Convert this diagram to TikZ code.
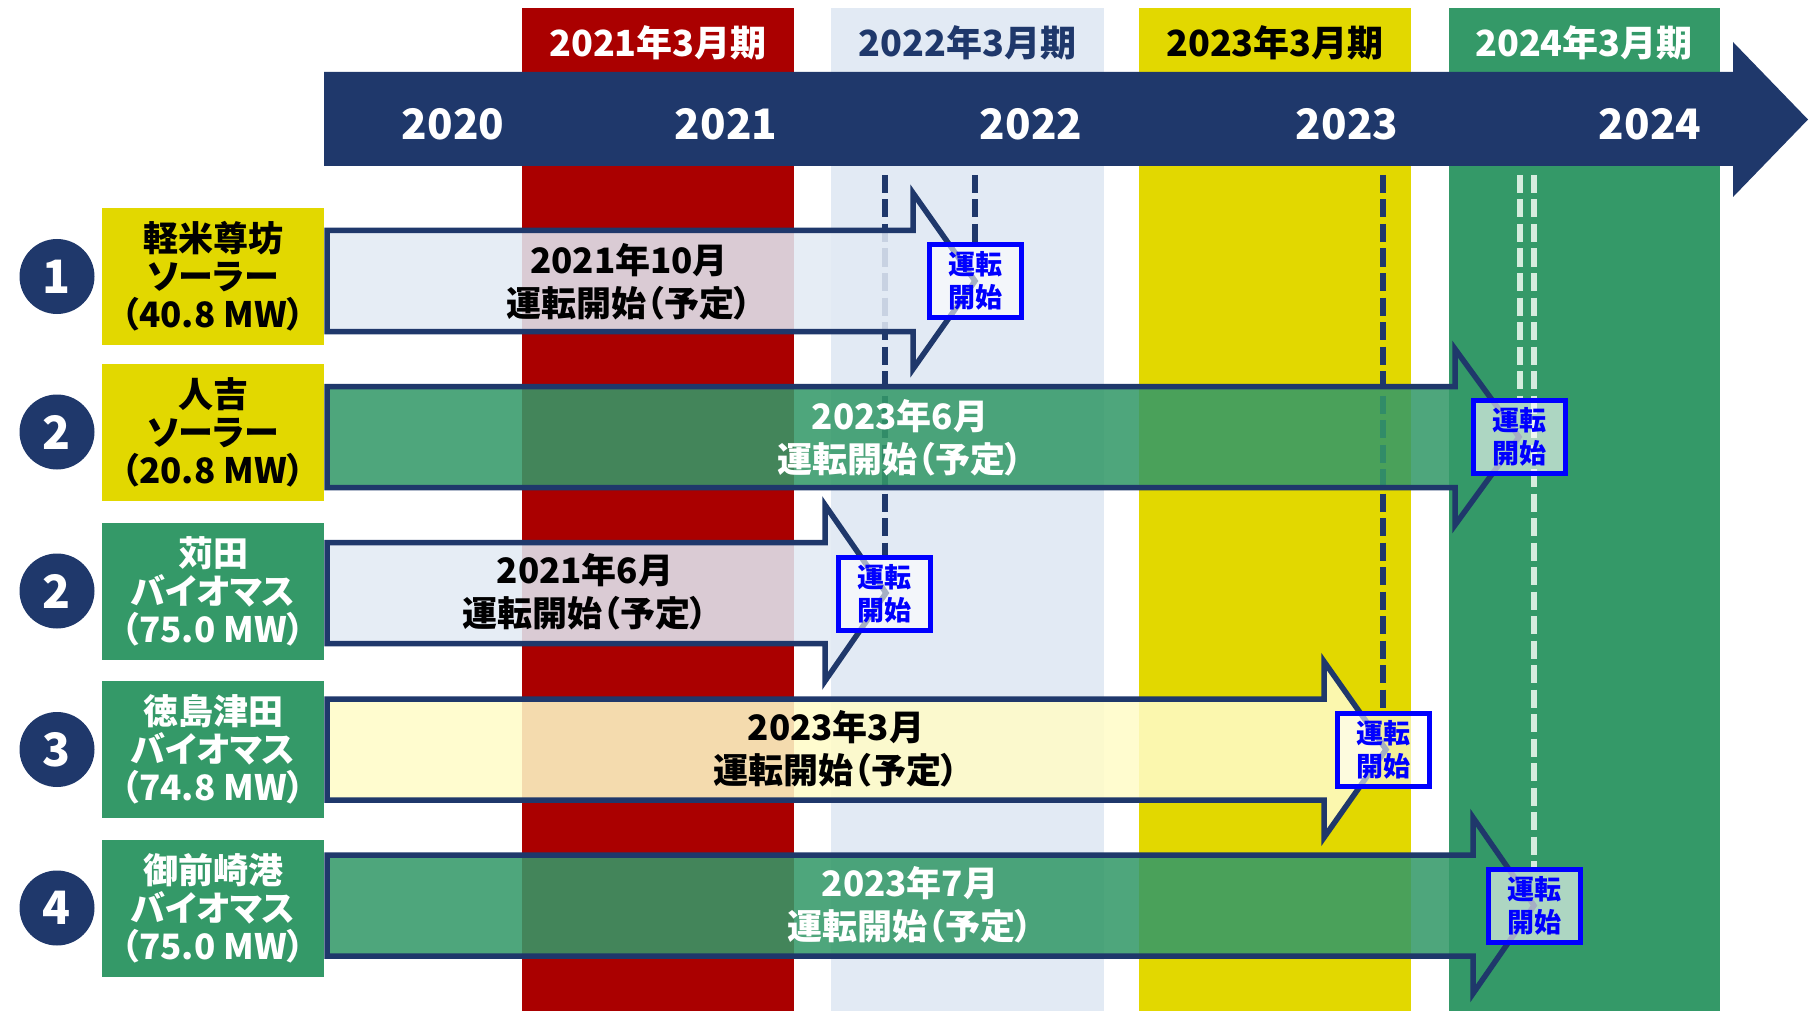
\documentclass[tikz,border=0pt]{standalone}
\usepackage{fontspec}
\setmainfont{Noto Sans CJK JP}[RawFeature=+palt]
\usetikzlibrary{positioning}

\definecolor{tlnavy}{RGB}{31,56,107}
\definecolor{colred}{RGB}{170,0,0}
\definecolor{colblue}{RGB}{226,234,244}
\definecolor{colyellow}{RGB}{226,216,0}
\definecolor{colgreen}{RGB}{52,153,104}
\definecolor{paleyellow}{RGB}{255,252,200}
\definecolor{palegreen}{RGB}{214,236,222}
\definecolor{boxblue}{RGB}{0,0,255}

\pgfdeclarelayer{back}
\pgfdeclarelayer{mid}
\pgfsetlayers{back,mid,main}

\tikzset{
  colhead/.style={font=\bfseries\fontsize{36}{40}\selectfont},
  yearlbl/.style={text=white, font=\bfseries\fontsize{42}{44}\selectfont},
  plantlbl/.style={minimum width=222, minimum height=137, inner sep=0, align=center, font=\bfseries\fontsize{35}{38}\selectfont},
  numcirc/.style={circle, fill=tlnavy, text=white, minimum size=75, inner sep=0, font=\bfseries\fontsize{46}{46}\selectfont},
  planarrow/.style={draw=tlnavy, line width=5.5, fill opacity=0.87},
  plantext/.style={align=center, font=\bfseries\fontsize{35}{43}\selectfont},
  startbox/.style={draw=boxblue, line width=5, fill=white, fill opacity=0.6, text opacity=1, text=boxblue, minimum width=92, minimum height=73, inner sep=0, align=center, font=\bfseries\fontsize{27}{33}\selectfont},
  navydash/.style={draw=tlnavy, line width=6, dash pattern=on 18 off 6.5},
  whitedash/.style={draw=palegreen, line width=6, dash pattern=on 18 off 6.5}
}

\begin{document}
\begin{tikzpicture}[x=1pt, y=-1pt]
\useasboundingbox (0,0) rectangle (1810,1011);

% fiscal year columns
\begin{pgfonlayer}{back}
\fill[colred] (522,8) rectangle (794,1011);
\fill[colblue] (831,8) rectangle (1104,1011);
\fill[colyellow] (1139,8) rectangle (1411,1011);
\fill[colgreen] (1449,8) rectangle (1720,1011);
\node[colhead, text=white] (fy21) at (658,43) {2021年3月期};
\node[colhead, text=tlnavy] (fy22) at (967.5,43) {2022年3月期};
\node[colhead, text=black] (fy23) at (1275,43) {2023年3月期};
\node[colhead, text=white] (fy24) at (1584,43) {2024年3月期};
\end{pgfonlayer}

% time axis
\fill[tlnavy] (324,72) -- (1733,72) -- (1733,42) -- (1808,119.5) -- (1733,197) -- (1733,166) -- (324,166) -- cycle;
\node[yearlbl] (y20) at (453,124) {2020};
\node[yearlbl] (y21) at (726,124) {2021};
\node[yearlbl] (y22) at (1031,124) {2022};
\node[yearlbl] (y23) at (1347,124) {2023};
\node[yearlbl] (y24) at (1650,124) {2024};
\coordinate (dtop) at (0,175);

% plants
\node[numcirc] (num1) at (57,276.5) {1};
\node[numcirc] (num2) at (57,432) {2};
\node[numcirc] (num3) at (57,591) {2};
\node[numcirc] (num4) at (57,749.5) {3};
\node[numcirc] (num5) at (57,908) {4};

\node[plantlbl, fill=colyellow, text=black] (lab1) at (213,276.5) {軽米尊坊\\ソーラー\\（40.8 MW）};
\node[plantlbl, fill=colyellow, text=black] (lab2) at (213,432) {人吉\\ソーラー\\（20.8 MW）};
\node[plantlbl, fill=colgreen, text=white] (lab3) at (213,591) {苅田\\バイオマス\\（75.0 MW）};
\node[plantlbl, fill=colgreen, text=white] (lab4) at (213,749.5) {徳島津田\\バイオマス\\（74.8 MW）};
\node[plantlbl, fill=colgreen, text=white] (lab5) at (213,908) {御前崎港\\バイオマス\\（75.0 MW）};

% schedule arrows
\draw[planarrow, fill=colblue] (327,230.5) -| (913,193) -- (975,281) -- (913,369) |- (327,331.5) -- cycle;
\draw[planarrow, fill=colgreen] (327,386.5) -| (1455,349) -- (1519,437) -- (1455,525) |- (327,487.5) -- cycle;
\draw[planarrow, fill=colblue] (327,542.5) -| (825,505) -- (886,593) -- (825,681) |- (327,643.5) -- cycle;
\draw[planarrow, fill=paleyellow] (327,699) -| (1324,661.5) -- (1386,749.5) -- (1324,837.5) |- (327,800) -- cycle;
\draw[planarrow, fill=colgreen] (327,855) -| (1473,817.5) -- (1534,905.5) -- (1473,993.5) |- (327,956) -- cycle;

\node[plantext, text=black] (plan1) at (629,282) {2021年10月\\運転開始（予定）};
\node[plantext, text=white] (plan2) at (900,438) {2023年6月\\運転開始（予定）};
\node[plantext, text=black] (plan3) at (585,592) {2021年6月\\運転開始（予定）};
\node[plantext, text=black] (plan4) at (836,749) {2023年3月\\運転開始（予定）};
\node[plantext, text=white] (plan5) at (910,905) {2023年7月\\運転開始（予定）};

% start of operation
\node[startbox] (start1) at (975,281) {運転\\開始};
\node[startbox] (start2) at (1519.5,437) {運転\\開始};
\node[startbox] (start3) at (884.5,593.5) {運転\\開始};
\node[startbox] (start4) at (1383,749.5) {運転\\開始};
\node[startbox] (start5) at (1534,905.5) {運転\\開始};

\begin{pgfonlayer}{mid}
\draw[navydash] (start1.north |- dtop) -- (start1.north);
\draw[navydash] (start3.north |- dtop) -- (start3.north);
\draw[navydash] (start4.north |- dtop) -- (start4.north);
\draw[whitedash] (start2.north |- dtop) -- (start2.north);
\draw[whitedash] (start5.north |- dtop) -- (start5.north);
\end{pgfonlayer}
\end{tikzpicture}
\end{document}
